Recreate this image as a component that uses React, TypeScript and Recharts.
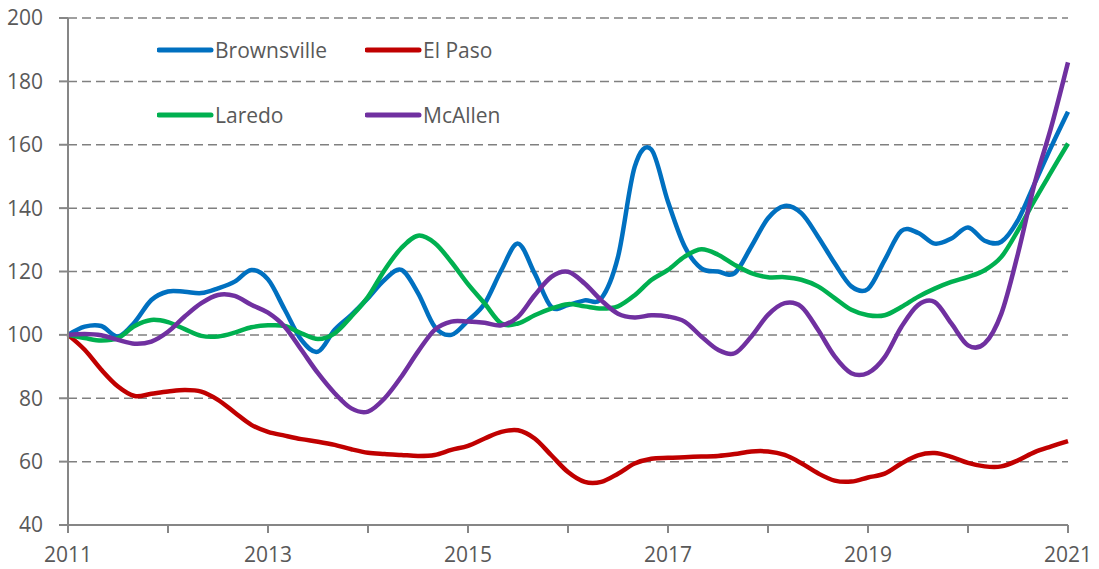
import { LineChart, Line, XAxis, YAxis, CartesianGrid } from "recharts";

// bi-monthly points, Jan 2011 .. Jan 2021 (index 2011 = 100)
const years = [2011, 2012, 2013, 2014, 2015, 2016, 2017, 2018, 2019, 2020, 2021];
const sampleMonths = [1, 3, 5, 7, 9, 11];

const brownsville = [
  100, 102.6, 102.8, 99.5, 104, 111,
  113.7, 113.6, 113.2, 114.7, 116.8, 120.5,
  117.5, 108, 98.4, 94.7, 101.6, 106.3,
  111.6, 117.4, 120.5, 113.2, 102.6, 100,
  104.5, 109.9, 120.4, 128.8, 119.4, 108.8,
  109.4, 110.9, 111.5, 124.6, 153, 158.5,
  142, 127.9, 121, 120, 119.5, 127.9,
  136.8, 140.7, 138.4, 131, 122.6, 115.3,
  114.5, 123.6, 132.8, 132.2, 128.8, 130.4,
  133.9, 129.7, 129.4, 136.2, 147.8, 159.4,
  170.4,
];

const elPaso = [
  100, 95.3, 89, 83.7, 80.7, 81.4,
  82.1, 82.6, 82.1, 79.5, 75.5, 71.6,
  69.4, 68.2, 67.1, 66.3, 65.3, 63.9,
  62.8, 62.4, 62.1, 61.8, 62.1, 63.7,
  65, 67.3, 69.4, 69.9, 67.3, 62,
  56.7, 53.6, 53.6, 56.2, 59.4, 60.9,
  61.2, 61.4, 61.6, 61.8, 62.4, 63.2,
  63.2, 62.1, 59.5, 56.3, 54, 53.7,
  55, 56.2, 59.4, 62, 62.7, 61.5,
  59.6, 58.5, 58.5, 60.4, 63, 64.8,
  66.5,
];

const laredo = [
  100, 99, 98.2, 99, 102.8, 104.7,
  104, 101.8, 99.7, 99.5, 100.7, 102.4,
  103, 102.8, 100.5, 98.7, 100.5, 105.8,
  112, 120.5, 127.4, 131.3, 129, 123,
  116, 109.9, 103.6, 103.6, 106.2, 108.3,
  109.7, 109, 108.3, 109, 112.5, 117.3,
  120.5, 124.7, 127, 125.3, 122.1, 119.5,
  118.2, 118.2, 117.4, 115.3, 111.6, 107.9,
  106.2, 106.2, 108.8, 112, 114.6, 116.7,
  118.3, 120.4, 124.6, 133, 142.5, 151.5,
  160.4,
];

const mcAllen = [
  100, 100.3, 99.9, 98.4, 97.2, 97.9,
  101, 105.8, 110, 112.6, 112.3, 109.5,
  107, 102.6, 95.3, 87.9, 81.6, 76.8,
  75.8, 80, 86.8, 94.7, 101.6, 104.2,
  104.2, 103.8, 103, 105.7, 112.5, 118.3,
  119.9, 116.2, 110.9, 106.7, 105.5, 106.2,
  105.8, 104.2, 99.5, 95.3, 94.2, 99.5,
  106.3, 110, 108.9, 101.6, 93.2, 87.9,
  88, 93, 102.5, 109.4, 110.4, 103.6,
  96.7, 97.3, 106.7, 125.7, 147.8, 165.7,
  186,
];

const yTicks = [40, 60, 80, 100, 120, 140, 160, 180, 200];

const series = [
  { key: "brownsville", name: "Brownsville", color: "#0070C0", values: brownsville },
  { key: "elPaso", name: "El Paso", color: "#C00000", values: elPaso },
  { key: "laredo", name: "Laredo", color: "#00B050", values: laredo },
  { key: "mcAllen", name: "McAllen", color: "#7030A0", values: mcAllen },
];

const periods: number[] = [];
years.forEach((y) => {
  sampleMonths.forEach((m) => {
    if (y < 2021 || m === 1) periods.push(y + (m - 1) / 12);
  });
});

const data = periods.map((t, i) => {
  const row: Record<string, number> = { t };
  series.forEach((s) => {
    row[s.key] = s.values[i];
  });
  return row;
});

// Excel-like smoothing: a plain Catmull-Rom (cardinal, tension 0) curve factory
function catmullRom(context: any) {
  const k = 1 / 6;
  let line = NaN;
  let pt = 0;
  let x0 = NaN, x1 = NaN, x2 = NaN, y0 = NaN, y1 = NaN, y2 = NaN;
  const seg = (x: number, y: number) => {
    context.bezierCurveTo(
      x1 + k * (x2 - x0), y1 + k * (y2 - y0),
      x2 + k * (x1 - x), y2 + k * (y1 - y),
      x2, y2
    );
  };
  return {
    areaStart() { line = 0; },
    areaEnd() { line = NaN; },
    lineStart() {
      x0 = x1 = x2 = y0 = y1 = y2 = NaN;
      pt = 0;
    },
    lineEnd() {
      if (pt === 2) context.lineTo(x2, y2);
      else if (pt === 3) seg(x1, y1);
      if (line || (line !== 0 && pt === 1)) context.closePath();
      line = 1 - line;
    },
    point(x: number, y: number) {
      x = +x; y = +y;
      if (pt === 0) {
        pt = 1;
        if (line) context.lineTo(x, y); else context.moveTo(x, y);
      } else if (pt === 1) {
        pt = 2;
        x1 = x; y1 = y;
      } else {
        pt = 3;
        seg(x, y);
      }
      x0 = x1; x1 = x2; x2 = x;
      y0 = y1; y1 = y2; y2 = y;
    },
  };
}

const FONT = "'Open Sans', sans-serif";
const AXIS = "#868686";
const TEXT = "#595959";

// legend positions
const legendSlots = [
  { left: 157, top: 50 },
  { left: 365, top: 50 },
  { left: 157, top: 115 },
  { left: 365, top: 115 },
];

export default function App() {
  return (
    <div style={{ position: "absolute", left: 0, top: 0, width: 1099, height: 569, background: "#fff" }}>
      <LineChart width={1099} height={569} data={data} margin={{ top: 18, right: 31, left: 0, bottom: 0 }}>
        <CartesianGrid vertical={false} stroke="#808080" strokeWidth={1.5} strokeDasharray="9 5" />
        <XAxis
          dataKey="t"
          type="number"
          domain={[2011, 2021]}
          ticks={years}
          tickFormatter={(v: number) => ((v - 2011) % 2 === 0 ? String(v) : "")}
          height={44}
          tickSize={8}
          tickMargin={14}
          axisLine={{ stroke: AXIS, strokeWidth: 2 }}
          tickLine={{ stroke: AXIS, strokeWidth: 2 }}
          tick={{ fill: TEXT, fontSize: 21, fontFamily: FONT }}
        />
        <YAxis
          domain={[40, 200]}
          ticks={yTicks}
          width={68}
          tickSize={9}
          tickMargin={16}
          axisLine={{ stroke: AXIS, strokeWidth: 2 }}
          tickLine={{ stroke: AXIS, strokeWidth: 2 }}
          tick={{ fill: TEXT, fontSize: 21, fontFamily: FONT }}
        />
        {series.map((s) => (
          <Line
            key={s.key}
            dataKey={s.key}
            name={s.name}
            type={catmullRom as any}
            stroke={s.color}
            strokeWidth={4.5}
            strokeLinejoin="round"
            dot={false}
            activeDot={false}
            isAnimationActive={false}
          />
        ))}
      </LineChart>

      {series.map((s, i) => (
        <div
          key={s.key}
          style={{
            position: "absolute",
            left: legendSlots[i].left,
            top: legendSlots[i].top - 15,
            height: 30,
            display: "flex",
            alignItems: "center",
            fontFamily: FONT,
            fontSize: 21,
            color: TEXT,
          }}
        >
          <svg width={58} height={10}>
            <line x1={2} y1={5} x2={54} y2={5} stroke={s.color} strokeWidth={5} strokeLinecap="round" />
          </svg>
          <span>{s.name}</span>
        </div>
      ))}
    </div>
  );
}
